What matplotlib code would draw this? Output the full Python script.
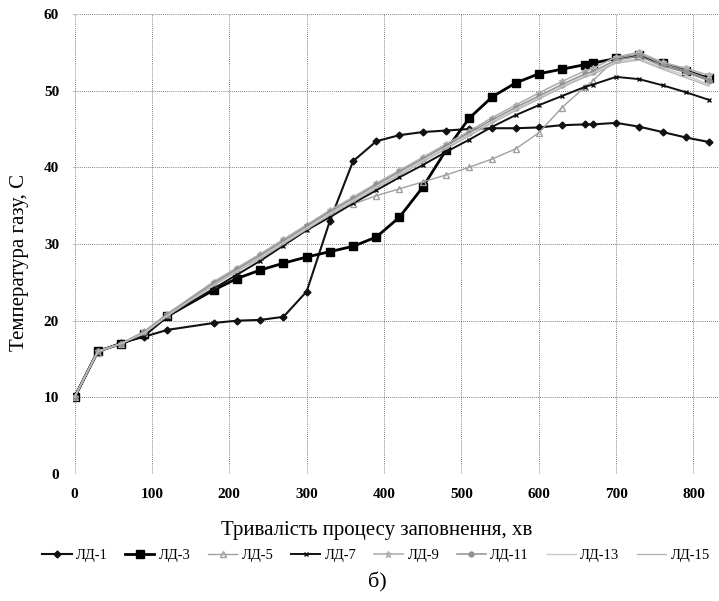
import matplotlib
matplotlib.use("Agg")
import matplotlib.pyplot as plt

plt.rcParams['font.family'] = ['Liberation Serif', 'DejaVu Serif']

# time points (minutes)
x_main = [0, 30, 60, 90, 120, 180, 210, 240, 270, 300, 330, 360, 390, 420, 450, 480,
          510, 540, 570, 600, 630, 660, 670, 700, 730, 760, 790, 820]

ld1 = [10, 15.9, 17.1, 17.9, 18.8, 19.7, 20.0, 20.1, 20.5, 23.8, 33.0, 40.8, 43.4, 44.2,
       44.6, 44.8, 45.0, 45.1, 45.1, 45.2, 45.5, 45.6, 45.6, 45.8, 45.3, 44.6, 43.9, 43.3]
ld3 = [10, 16.0, 17.0, 18.2, 20.6, 24.0, 25.5, 26.6, 27.5, 28.3, 29.0, 29.7, 30.9, 33.5,
       37.4, 42.2, 46.4, 49.2, 51.0, 52.2, 52.8, 53.4, 53.6, 54.2, 54.6, 53.6, 52.6, 51.6]
ld5 = [10, 15.8, 17.0, 18.4, 20.7, 24.8, 26.6, 28.3, 30.3, 32.3, 34.2, 35.2, 36.3, 37.2,
       38.1, 39.0, 40.0, 41.1, 42.4, 44.5, 47.8, 50.5, 51.3, 54.2, 54.8, 53.5, 52.6, 51.5]
ld7 = [10, 16.0, 17.0, 18.0, 20.5, 24.2, 26.0, 27.8, 29.8, 31.8, 33.5, 35.3, 37.0, 38.7,
       40.3, 42.0, 43.6, 45.3, 46.8, 48.1, 49.3, 50.5, 50.8, 51.8, 51.5, 50.7, 49.8, 48.8]
ld9 = [10, 16.0, 17.0, 18.6, 20.9, 25.1, 26.9, 28.7, 30.6, 32.5, 34.4, 36.1, 37.9, 39.6,
       41.3, 43.0, 44.7, 46.5, 48.1, 49.7, 51.2, 52.6, 52.9, 54.4, 55.0, 53.7, 52.9, 52.0]
ld11 = [10, 16.0, 17.0, 18.5, 20.8, 24.9, 26.7, 28.5, 30.4, 32.3, 34.2, 35.9, 37.7, 39.4,
        41.1, 42.8, 44.5, 46.2, 47.8, 49.3, 50.8, 52.2, 52.5, 54.0, 54.5, 53.2, 52.4, 51.3]
ld13 = [10, 16.0, 17.0, 18.4, 20.7, 24.7, 26.5, 28.3, 30.2, 32.1, 34.0, 35.7, 37.5, 39.2,
        40.9, 42.6, 44.3, 46.0, 47.6, 49.1, 50.6, 52.0, 52.3, 53.8, 54.2, 53.0, 52.0, 50.8]
ld15 = [10, 16.0, 17.0, 18.3, 20.6, 24.6, 26.4, 28.1, 30.0, 31.9, 33.8, 35.5, 37.3, 39.0,
        40.7, 42.4, 44.1, 45.8, 47.4, 48.9, 50.4, 51.8, 52.1, 53.6, 54.0, 52.8, 51.7, 50.6]

labels = ['ЛД-1', 'ЛД-3', 'ЛД-5', 'ЛД-7', 'ЛД-9', 'ЛД-11', 'ЛД-13', 'ЛД-15']
series = [ld1, ld3, ld5, ld7, ld9, ld11, ld13, ld15]

styles = [
    dict(color='#111111', marker='D', ms=3.5, lw=1.5),
    dict(color='#000000', marker='s', ms=5.5, lw=2.0),
    dict(color='#a0a0a0', marker='^', ms=4, lw=1.0, mfc='none'),
    dict(color='#111111', marker='x', ms=3.5, lw=1.4),
    dict(color='#b0b0b0', marker='*', ms=5, lw=1.2),
    dict(color='#909090', marker='o', ms=3.5, lw=1.1),
    dict(color='#c8c8c8', marker='', ms=0, lw=1.0),
    dict(color='#b4b4b4', marker='', ms=0, lw=1.0),
]

fig = plt.figure(figsize=(7.19, 6.01), dpi=100)
ax = fig.add_axes([73/719, 1-474/601, 1-73/719, (474-14)/601])

for lab, ys, st in zip(labels, series, styles):
    ax.plot(x_main, ys, label=lab, **st)

ax.set_xlim(-2, 833)
ax.set_ylim(0, 60)
ax.set_xticks(range(0, 900, 100))
ax.set_yticks(range(0, 70, 10))
ax.grid(True, linestyle=(0, (1, 1.5)), color='#555555', lw=0.6)
for s in ax.spines.values():
    s.set_visible(False)
ax.tick_params(length=0, labelsize=11, pad=10)
for t in ax.get_xticklabels() + ax.get_yticklabels():
    t.set_fontweight('bold')

fig.text(20/719, 1-262/601, 'Температура газу, С', rotation=90, ha='center', va='center', fontsize=15)
fig.text(377/719, 1-530/601, 'Тривалість процесу заповнення, хв', ha='center', va='center', fontsize=15)
fig.text(377/719, 1-582/601, 'б)', ha='center', va='center', fontsize=16)

fig.legend(loc='center', bbox_to_anchor=(376/719, 1-555/601), ncol=8, frameon=False,
           fontsize=10.5, handlelength=2.0, handletextpad=0.3, columnspacing=1.2,
           borderaxespad=0, borderpad=0)

fig.savefig('out.png', dpi=100)
